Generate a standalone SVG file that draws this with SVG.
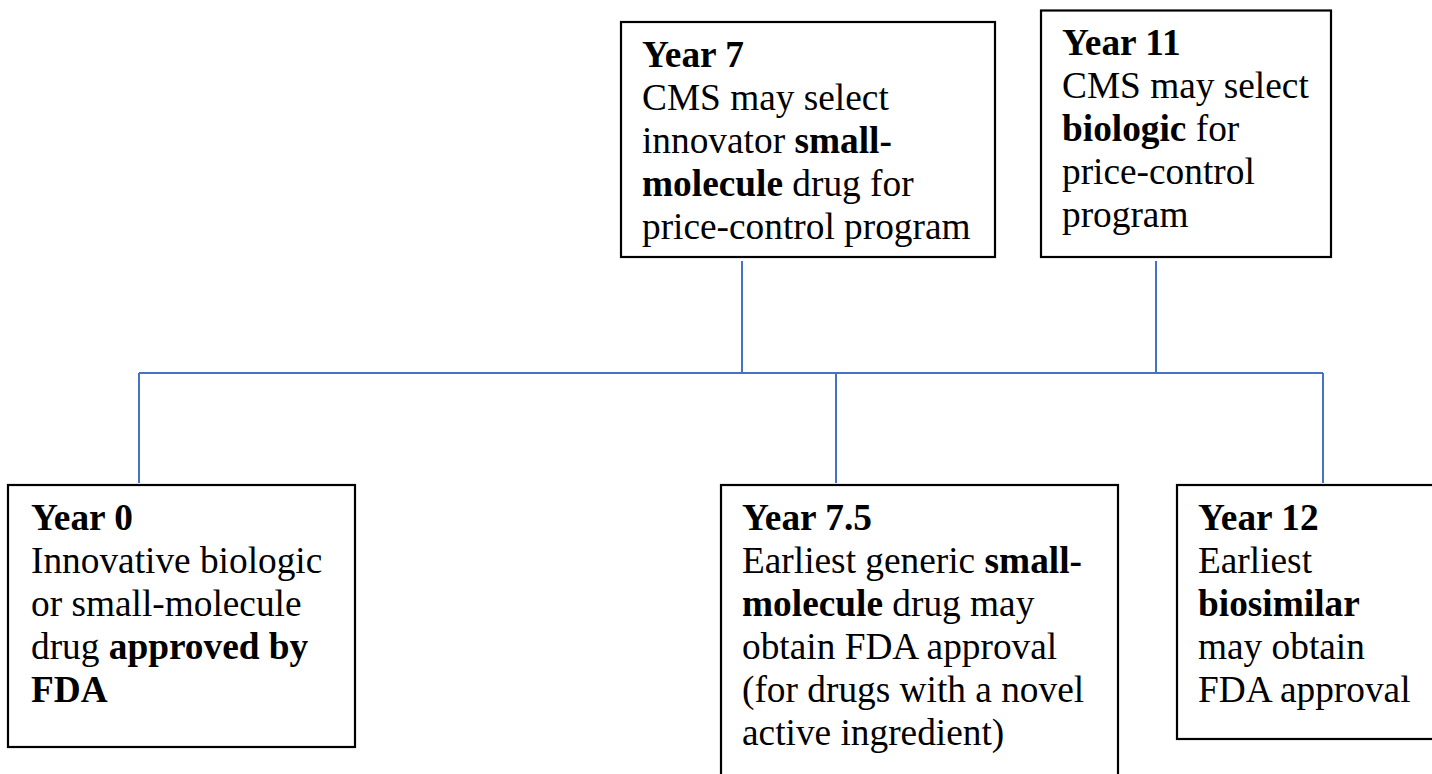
<svg xmlns="http://www.w3.org/2000/svg" width="1432" height="774" viewBox="0 0 1432 774">
<style>
.box{fill:#ffffff;stroke:#000000;stroke-width:2.2}
.t{font-family:"Liberation Serif","Times New Roman",serif;font-size:37.33px;fill:#000000}
.b{font-weight:bold}
.con{stroke:#4472C4;stroke-width:2;fill:none}
</style>
<rect width="1432" height="774" fill="#ffffff"/>
<g id="connectors">
<line class="con" x1="742" y1="261" x2="742" y2="373"/>
<line class="con" x1="1156" y1="261" x2="1156" y2="373"/>
<line class="con" x1="139" y1="373" x2="1323" y2="373"/>
<line class="con" x1="139" y1="373" x2="139" y2="483"/>
<line class="con" x1="836" y1="373" x2="836" y2="483"/>
<line class="con" x1="1323" y1="373" x2="1323" y2="483"/>
</g>
<g id="year7">
<rect class="box" x="621" y="22" width="374" height="235"/>
<text class="t" x="642" y="67"><tspan class="b">Year 7</tspan><tspan x="642" dy="43">CMS may select</tspan><tspan x="642" dy="43">innovator <tspan class="b">small-</tspan></tspan><tspan x="642" dy="43"><tspan class="b">molecule</tspan> drug for</tspan><tspan x="642" dy="43">price-control program</tspan></text>
</g>
<g id="year11">
<rect class="box" x="1041" y="10.5" width="290" height="246.5"/>
<text class="t" x="1062" y="55"><tspan class="b">Year 11</tspan><tspan x="1062" dy="43">CMS may select</tspan><tspan x="1062" dy="43"><tspan class="b">biologic</tspan> for</tspan><tspan x="1062" dy="43">price-control</tspan><tspan x="1062" dy="43">program</tspan></text>
</g>
<g id="year0">
<rect class="box" x="8" y="485" width="347" height="262"/>
<text class="t" x="31" y="530"><tspan class="b">Year 0</tspan><tspan x="31" dy="43">Innovative biologic</tspan><tspan x="31" dy="43">or small-molecule</tspan><tspan x="31" dy="43">drug <tspan class="b">approved by</tspan></tspan><tspan x="31" dy="43" class="b">FDA</tspan></text>
</g>
<g id="year7_5">
<rect class="box" x="721" y="485" width="397" height="300"/>
<text class="t" x="742" y="530"><tspan class="b">Year 7.5</tspan><tspan x="742" dy="43">Earliest generic <tspan class="b">small-</tspan></tspan><tspan x="742" dy="43"><tspan class="b">molecule</tspan> drug may</tspan><tspan x="742" dy="43">obtain FDA approval</tspan><tspan x="742" dy="43">(for drugs with a novel</tspan><tspan x="742" dy="43">active ingredient)</tspan></text>
</g>
<g id="year12">
<rect class="box" x="1177" y="485" width="270" height="254"/>
<text class="t" x="1198" y="530"><tspan class="b">Year 12</tspan><tspan x="1198" dy="43">Earliest</tspan><tspan x="1198" dy="43" class="b">biosimilar</tspan><tspan x="1198" dy="43">may obtain</tspan><tspan x="1198" dy="43">FDA approval</tspan></text>
</g>
</svg>
